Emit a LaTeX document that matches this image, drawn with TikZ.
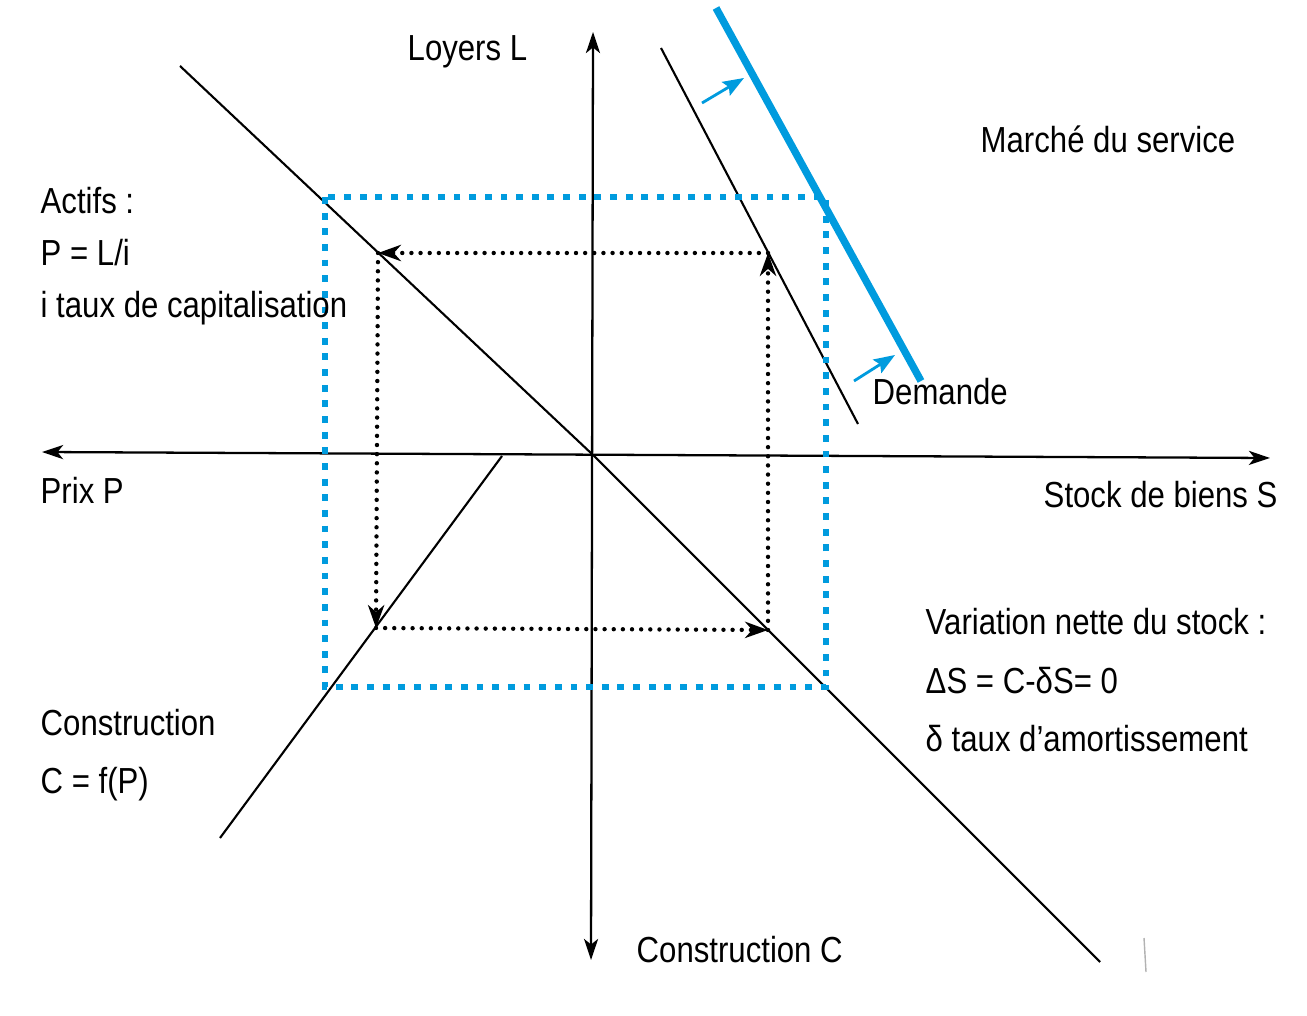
\documentclass[tikz,border=0pt]{standalone}
\usepackage{fontspec}
\setmainfont{Liberation Sans}[FakeStretch=0.86]
\usetikzlibrary{arrows.meta}
\definecolor{cblue}{RGB}{0,155,222}
\begin{document}
\begin{tikzpicture}[x=0.01cm,y=-0.01cm,
  axis/.style={line width=0.65pt,{Stealth[length=6pt,width=4pt,inset=1.6pt]}-{Stealth[length=6pt,width=4pt,inset=1.6pt]}},
  curve/.style={line width=0.6pt},
  flow/.style={line width=1.25pt,line cap=round,dash pattern=on 0pt off 2.6pt,
    -{Stealth[length=6.5pt,width=4.6pt,inset=2pt]}},
  box/.style={cblue,line width=1.95pt,dash pattern=on 1.95pt off 2.5pt},
  shiftarrow/.style={cblue,line width=0.8pt,-{Stealth[length=6pt,width=4.5pt,inset=1pt]}},
  lbl/.style={anchor=base west,inner sep=0pt,font=\fontsize{10.3}{12}\selectfont}]
\useasboundingbox (0,0) rectangle (1307,1016);

% axes
\coordinate (O) at (593,455);
\coordinate (ytop) at (593,32);
\coordinate (ybot) at (591,960);
\coordinate (xleft) at (42,452);
\coordinate (xright) at (1270,458);
\draw[axis] (ybot) -- (ytop);
\draw[axis] (xleft) -- (xright);

% asset market line P = L/i (through the origin)
\coordinate (capA) at (180,66);
\coordinate (capB) at (1100,962);
\draw[curve] (capA) -- (O) -- (capB);

% construction line
\coordinate (conA) at (502,456);
\coordinate (conB) at (220,838);
\draw[curve] (conA) -- (conB);

% demand for the service, before and after the shift
\coordinate (demA) at (661,48);
\coordinate (demB) at (858,424);
\draw[curve] (demA) -- (demB);
\coordinate (newA) at (716,8);
\coordinate (newB) at (921,381);
\draw[cblue,line width=2.1pt] (newA) -- (newB);
\coordinate (s1a) at (702,103);
\coordinate (s1b) at (744,78);
\coordinate (s2a) at (854,381);
\coordinate (s2b) at (895,355);
\draw[shiftarrow] (s1a) -- (s1b);
\draw[shiftarrow] (s2a) -- (s2b);

% new equilibrium rectangle
\coordinate (bTL) at (325,197);
\coordinate (bBR) at (826,687);
\draw[box] (bTL) rectangle (bBR);

% equilibrium loop
\coordinate (q1) at (768,253);
\coordinate (q2) at (378,253);
\coordinate (q3) at (376,628);
\coordinate (q4) at (768,630);
\draw[flow] (q1) -- (q2);
\draw[flow] (q2) -- (q3);
\draw[flow] (q3) -- (q4);
\draw[flow] (q4) -- (q1);

% faint mark near the lower right edge
\draw[gray!60,line width=0.4pt] (1144,938) -- (1146,972);

% labels
\node[lbl] (tL) at (407,61) {Loyers L};
\node[lbl] (tM) at (980,153) {Marché du service};
\node[lbl] (tA1) at (40,214) {Actifs :};
\node[lbl] (tA2) at (40,266) {P = L/i};
\node[lbl] (tA3) at (40,318) {i taux de capitalisation};
\node[lbl] (tD) at (872,405) {Demande};
\node[lbl] (tP) at (40,503) {Prix P};
\node[lbl] (tS) at (1043,508) {Stock de biens S};
\node[lbl] (tV1) at (925,634) {Variation nette du stock :};
\node[lbl] (tV2) at (925,693) {ΔS = C-δS= 0};
\node[lbl] (tV3) at (925,751) {δ taux d’amortissement};
\node[lbl] (tC1) at (40,735) {Construction};
\node[lbl] (tC2) at (40,793) {C = f(P)};
\node[lbl] (tC) at (636,962) {Construction C};
\end{tikzpicture}
\end{document}
